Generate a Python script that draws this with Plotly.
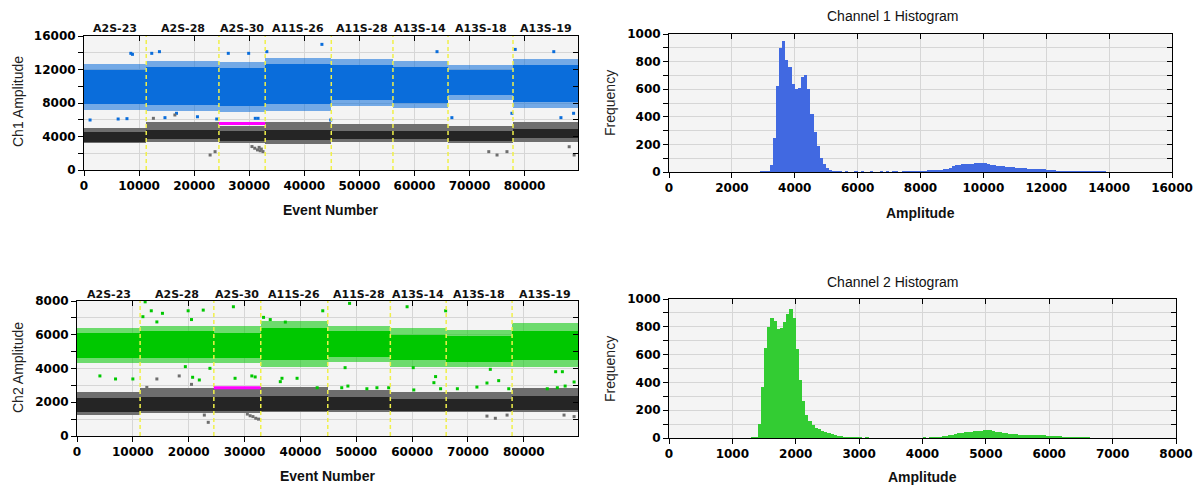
import plotly.graph_objects as go

# ---------------- data ----------------
wells = ["A2S-23", "A2S-28", "A2S-30", "A11S-26", "A11S-28", "A13S-14", "A13S-18", "A13S-19"]
well_edges = [0, 11300, 24500, 32900, 44900, 56100, 66100, 77900, 89700]

# Channel 1 positive (blue) cluster per well: outer (sparse) and core (dense) ranges
ch1_pos_outer_lo = [7200, 7000, 6900, 7000, 7700, 7400, 8400, 7400]
ch1_pos_outer_hi = [12600, 13000, 12900, 13400, 13200, 13000, 12500, 13200]
ch1_pos_core_lo = [7900, 7800, 7700, 7900, 8400, 8000, 8900, 8100]
ch1_pos_core_hi = [12000, 12300, 12200, 12600, 12500, 12300, 11900, 12500]
# Channel 1 negative (grey) cluster
ch1_neg_outer_lo = [3200, 3400, 3200, 3150, 3400, 3400, 3200, 3400]
ch1_neg_outer_hi = [5000, 5700, 5300, 5700, 5500, 5500, 5300, 5700]
ch1_neg_core_lo = [3400, 3700, 3500, 3600, 3700, 3700, 3500, 3800]
ch1_neg_core_hi = [4500, 4800, 4600, 4800, 4700, 4700, 4600, 4900]

# Channel 2 positive (green) cluster
ch2_pos_outer_lo = [4300, 4300, 4300, 4100, 4400, 4100, 4100, 4100]
ch2_pos_outer_hi = [6400, 6500, 6500, 6800, 6500, 6400, 6300, 6700]
ch2_pos_core_lo = [4600, 4600, 4600, 4500, 4700, 4500, 4400, 4500]
ch2_pos_core_hi = [6100, 6200, 6100, 6400, 6200, 6000, 5900, 6200]
# Channel 2 negative (grey) cluster
ch2_neg_outer_lo = [1250, 1350, 1350, 1440, 1440, 1440, 1440, 1440]
ch2_neg_outer_hi = [2630, 2820, 2820, 2920, 2730, 2630, 2630, 2820]
ch2_neg_core_lo = [1450, 1500, 1500, 1500, 1550, 1500, 1500, 1550]
ch2_neg_core_hi = [2230, 2300, 2300, 2400, 2300, 2200, 2200, 2400]

# isolated droplets (outliers)
ch1_pos_out_x = [1100, 6200, 7800, 8500, 8800, 12300, 13700, 14700, 16800, 20600, 24100, 26200, 29900,
                 31100, 31600, 33200, 43200, 44800, 64100, 66800, 78300, 77700, 85300, 86600, 88900]
ch1_pos_out_y = [5970, 6090, 6130, 13930, 13810, 13930, 14130, 6250, 6770, 6360, 6090, 13930, 13930,
                 6170, 6170, 14130, 15000, 5970, 14130, 6250, 14400, 6770, 14130, 6250, 6770]
ch1_neg_out_x = [12600, 16500, 22900, 23800, 30500, 31000, 31500, 31800, 32000, 32200, 32500,
                 73500, 75000, 76800, 88100, 89000]
ch1_neg_out_y = [6170, 6570, 1790, 2190, 2800, 2600, 2400, 2700, 2300, 2500, 2200,
                 2190, 1790, 2190, 2780, 1790]
ch2_pos_out_x = [4100, 6900, 10000, 12200, 11800, 13300, 14300, 15300, 19900, 20500, 22600, 19400, 20700,
                 21900, 23800, 28000, 28300, 31300, 31900, 33400, 34600, 37300, 36700, 36400, 44000,
                 48800, 59100, 66000, 39400, 48000, 64200, 63900, 60200, 74000, 85700, 86900, 43000,
                 47400, 48500, 51900, 53700, 55800, 60300, 65100, 68100, 71600, 73400, 75500, 77300,
                 84200, 86000, 87400, 89000]
ch2_pos_out_y = [3560, 3380, 3380, 7950, 7070, 7420, 6760, 7270, 7420, 6900, 7460, 4110, 3480,
                 3320, 4010, 7660, 3420, 3560, 3500, 7030, 6900, 6750, 3420, 3220, 7420,
                 7860, 7660, 7420, 3420, 4050, 3520, 3160, 4050, 3950, 3810, 3810, 2860,
                 2860, 2960, 2800, 2860, 2860, 2730, 2800, 2800, 2900, 3140, 3280, 2800,
                 2800, 2860, 2960, 3200]
ch2_neg_out_x = [12500, 14300, 18300, 20500, 22800, 23500, 30500, 31000, 31500, 32000, 32500,
                 73400, 74900, 77000, 87200, 89000]
ch2_neg_out_y = [2880, 3380, 3560, 3060, 1240, 810, 1300, 1200, 1150, 1050, 1000,
                 1180, 1050, 1240, 1240, 1150]

# threshold lines (magenta) for well A2S-30
threshold_well = "A2S-30"
ch1_threshold = 5550
ch2_threshold = 2860

# histograms
ch1_bin = 100
ch1_hist = ([0] * 22 + [2, 3, 2, 3, 2, 3, 3, 4, 6]
            + [10, 50, 250, 620, 900, 950, 810, 760, 640, 605, 610, 690, 705, 600, 420, 290, 185, 100, 55, 28, 15, 8, 5]
            + [4, 3, 4, 3, 3, 4, 3, 4, 3, 3, 4, 3, 3, 4, 3, 4, 3, 4, 4, 3, 4, 5, 4, 5, 5, 6]
            + [8, 9, 11, 13, 14, 16, 18, 21, 24, 30, 42, 48, 52, 55, 58, 60, 61, 62, 63, 63,
               62, 58, 52, 48, 45, 42, 40, 38, 36, 34, 32, 30, 29, 27, 25, 24, 23, 22, 21, 21,
               18, 15, 12, 10, 9, 8, 7, 7, 6, 6, 6, 6, 5, 5, 5, 5, 4, 4, 4, 3]
            + [0] * 20)
ch2_bin = 50
ch2_hist = ([0] * 22 + [2, 2, 3, 3, 4, 6]
            + [100, 370, 650, 800, 860, 840, 785, 790, 835, 890, 930, 860, 640, 420, 265, 165, 120, 93,
               75, 62, 48, 40, 34, 28, 22, 17, 13, 10, 8, 6, 5, 4, 4, 3, 4, 3]
            + [2, 3, 2, 2, 3, 2, 3, 2, 2, 3, 2, 3, 3, 2, 3, 3, 4, 3, 4, 4]
            + [5, 8, 12, 16, 20, 25, 30, 34, 38, 42, 44, 46, 48, 50, 52, 54, 58, 55, 50, 45,
               40, 36, 33, 30, 28, 27, 25, 24, 23, 22, 21, 20, 20, 19, 19, 18, 17, 15, 13, 11,
               9, 8, 7, 6, 5, 5, 4, 4, 4, 3, 3]
            + [2, 2, 1] + [0] * 22)

# ---------------- styling ----------------
BLUE = "#0a6ddb"
GREEN = "#00c800"
DARK = "#252525"
LIGHT = "#6e6e6e"
HBLUE = "#4169e1"
HGREEN = "#33cc33"
GRID = "#d6d6d6"
TICKFONT = dict(family="DejaVu Sans", size=12, color="#000", weight="bold")

W, H = 1198, 485


def px_x(p):
    return p / W


def px_y(p):
    return 1 - p / H


fig = go.Figure()

centers = [(a + b) / 2 for a, b in zip(well_edges[:-1], well_edges[1:])]
widths = [b - a for a, b in zip(well_edges[:-1], well_edges[1:])]


def band(xa, ya, lo, hi, color, opacity=1.0):
    fig.add_trace(go.Bar(x=centers, y=[h - l for l, h in zip(lo, hi)], base=lo, width=widths,
                         marker=dict(color=color, line=dict(width=0)), opacity=opacity,
                         xaxis=xa, yaxis=ya, showlegend=False, hoverinfo="skip"))


def dots(xa, ya, xs, ys, color):
    fig.add_trace(go.Scatter(x=xs, y=ys, mode="markers", xaxis=xa, yaxis=ya,
                             marker=dict(symbol="square", size=3, color=color, line=dict(width=0)),
                             showlegend=False, hoverinfo="skip"))


def dividers(xa, ya, ymax):
    xs, ys = [], []
    for e in well_edges[1:-1]:
        xs += [e, e, None]
        ys += [0, ymax, None]
    fig.add_trace(go.Scatter(x=xs, y=ys, mode="lines", xaxis=xa, yaxis=ya,
                             line=dict(color="#f0f04a", width=1.5, dash="4px,3px"),
                             showlegend=False, hoverinfo="skip"))


def threshold(xa, ya, level):
    i = wells.index(threshold_well)
    fig.add_trace(go.Scatter(x=[well_edges[i], well_edges[i + 1]], y=[level, level], mode="lines",
                             xaxis=xa, yaxis=ya, line=dict(color="#ff00ff", width=3),
                             showlegend=False, hoverinfo="skip"))


# Channel 1 scatter (x, y)
band("x", "y", ch1_pos_outer_lo, ch1_pos_outer_hi, BLUE, 0.55)
band("x", "y", ch1_pos_core_lo, ch1_pos_core_hi, BLUE)
band("x", "y", ch1_neg_outer_lo, ch1_neg_outer_hi, LIGHT)
band("x", "y", ch1_neg_core_lo, ch1_neg_core_hi, DARK)
dots("x", "y", ch1_pos_out_x, ch1_pos_out_y, BLUE)
dots("x", "y", ch1_neg_out_x, ch1_neg_out_y, LIGHT)
dividers("x", "y", 16000)
threshold("x", "y", ch1_threshold)

# Channel 2 scatter (x3, y3)
band("x3", "y3", ch2_pos_outer_lo, ch2_pos_outer_hi, GREEN, 0.55)
band("x3", "y3", ch2_pos_core_lo, ch2_pos_core_hi, GREEN)
band("x3", "y3", ch2_neg_outer_lo, ch2_neg_outer_hi, LIGHT)
band("x3", "y3", ch2_neg_core_lo, ch2_neg_core_hi, DARK)
dots("x3", "y3", ch2_pos_out_x, ch2_pos_out_y, GREEN)
dots("x3", "y3", ch2_neg_out_x, ch2_neg_out_y, LIGHT)
dividers("x3", "y3", 8000)
threshold("x3", "y3", ch2_threshold)

# Histograms
fig.add_trace(go.Bar(x=[i * ch1_bin + ch1_bin / 2 for i in range(len(ch1_hist))], y=ch1_hist,
                     width=ch1_bin, marker=dict(color=HBLUE, line=dict(width=0)),
                     xaxis="x2", yaxis="y2", showlegend=False, hoverinfo="skip"))
fig.add_trace(go.Bar(x=[i * ch2_bin + ch2_bin / 2 for i in range(len(ch2_hist))], y=ch2_hist,
                     width=ch2_bin, marker=dict(color=HGREEN, line=dict(width=0)),
                     xaxis="x4", yaxis="y4", showlegend=False, hoverinfo="skip"))


def axis(domain, rng, dtick, minor_dtick=None, anchor=None):
    a = dict(domain=domain, range=rng, dtick=dtick, tick0=0, showgrid=True, gridcolor=GRID,
             gridwidth=1, zeroline=False, showline=True, linecolor="#000", linewidth=1, mirror=True,
             ticks="outside", ticklen=5, tickcolor="#000", tickfont=TICKFONT, anchor=anchor,
             tickformat="d", automargin=False, fixedrange=True)
    if minor_dtick:
        a["minor"] = dict(dtick=minor_dtick, tick0=0, ticks="outside", ticklen=5, tickcolor="#000",
                          showgrid=True, gridcolor=GRID)
    return a


def mirror_axis(domain, rng, dtick, minor_dtick, overlay, side, anchor):
    a = dict(domain=domain, range=rng, dtick=dtick, tick0=0, showgrid=False, zeroline=False,
             showline=False, ticks="inside", ticklen=5, tickcolor="#000", showticklabels=False,
             overlaying=overlay, side=side, anchor=anchor, automargin=False, fixedrange=True)
    if minor_dtick:
        a["minor"] = dict(dtick=minor_dtick, tick0=0, ticks="inside", ticklen=5, tickcolor="#000",
                          showgrid=False)
    return a


L1, R1 = 84, 578
L3, R3 = 77, 578
LH, RH2, RH4 = 669, 1172, 1176

panels = [
    # (x-domain px, y-domain px, x-range, x-dtick, y-range, y-dtick, y-minor)
    ((L1, R1), (170, 36), [0, 89700], 10000, [0, 16000], 4000, 2000),
    ((LH, RH2), (172, 34), [0, 16000], 2000, [0, 1000], 200, 100),
    ((L3, R3), (436, 301), [0, 89700], 10000, [0, 8000], 2000, 1000),
    ((LH, RH4), (438, 299), [0, 8000], 1000, [0, 1000], 200, 100),
]

layout_axes = {}
for k, (xd, yd, xr, xdt, yr, ydt, ymn) in enumerate(panels, start=1):
    sfx = "" if k == 1 else str(k)
    xdom = [px_x(xd[0]), px_x(xd[1])]
    ydom = [px_y(yd[0]), px_y(yd[1])]
    layout_axes["xaxis" + sfx] = axis(xdom, xr, xdt, anchor="y" + sfx)
    layout_axes["yaxis" + sfx] = axis(ydom, yr, ydt, ymn, anchor="x" + sfx)
    m = str(k + 4)
    layout_axes["xaxis" + m] = mirror_axis(xdom, xr, xdt, None, "x" + sfx, "top", "y" + m)
    layout_axes["yaxis" + m] = mirror_axis(ydom, yr, ydt, ymn, "y" + sfx, "right", "x" + m)
    fig.add_trace(go.Scatter(x=[None], y=[None], xaxis="x" + m, yaxis="y" + m, mode="markers",
                             showlegend=False, hoverinfo="skip"))

fig.update_layout(
    width=W, height=H, margin=dict(l=0, r=0, t=0, b=0, autoexpand=False),
    paper_bgcolor="white", plot_bgcolor="#f4f4f4", barmode="overlay", bargap=0,
    showlegend=False, hovermode=False, **layout_axes,
)

ann = []
label_font = dict(family="DejaVu Sans", size=11, color="#111", weight="bold")
for name, c in zip(wells, centers):
    ann.append(dict(text=name, x=c, xref="x", y=px_y(28), yref="paper", showarrow=False,
                    font=label_font, xanchor="center", yanchor="middle"))
    ann.append(dict(text=name, x=c, xref="x3", y=px_y(294), yref="paper", showarrow=False,
                    font=label_font, xanchor="center", yanchor="middle"))

title_font = dict(family="Liberation Sans", size=14, color="#111")
bold14 = dict(family="Liberation Sans", size=14, color="#111", weight="bold")
reg13 = dict(family="Liberation Sans", size=14, color="#222")
texts = [
    ("Event Number", 330, 210, bold14, 0),
    ("Event Number", 327, 476, bold14, 0),
    ("Amplitude", 920, 213, bold14, 0),
    ("Amplitude", 922, 477, bold14, 0),
    ("Channel 1 Histogram", 893, 16, title_font, 0),
    ("Channel 2 Histogram", 893, 282, title_font, 0),
    ("Ch1 Amplitude", 18, 102, reg13, -90),
    ("Ch2 Amplitude", 18, 368, reg13, -90),
    ("Frequency", 610, 103, reg13, -90),
    ("Frequency", 610, 369, reg13, -90),
]
for t, x, y, f, ang in texts:
    ann.append(dict(text=t, x=px_x(x), y=px_y(y), xref="paper", yref="paper", showarrow=False,
                    font=f, textangle=ang, xanchor="center", yanchor="middle"))
fig.update_layout(annotations=ann)

fig.write_html("out.html", config={"displayModeBar": False, "staticPlot": True},
               post_script="document.body.style.margin='0';document.body.style.padding='0';"
                           "document.body.style.overflow='hidden';")
